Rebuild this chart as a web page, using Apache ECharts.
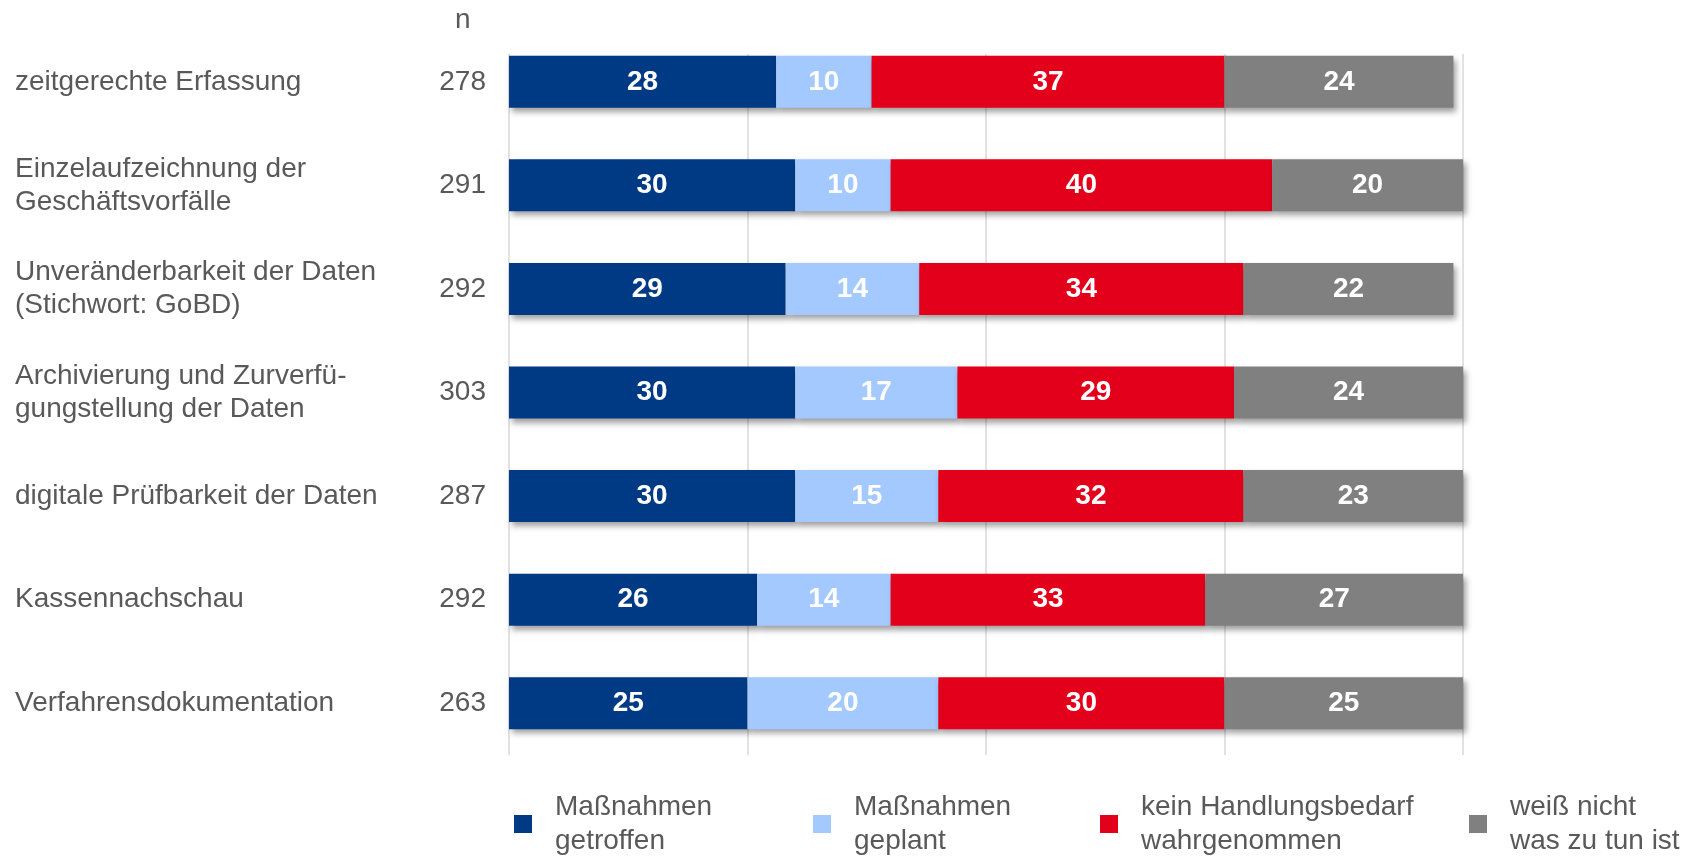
<!DOCTYPE html>
<html>
<head>
<meta charset="utf-8">
<script src="https://cdn.jsdelivr.net/npm/echarts@6/dist/echarts.min.js"></script>
<style>
html,body{margin:0;padding:0;background:#fff;}
#chart{width:1704px;height:856px;}
</style>
</head>
<body>
<div id="chart"></div>
<script>
const categories = [
  "zeitgerechte Erfassung",
  "Einzelaufzeichnung der\nGeschäftsvorfälle",
  "Unveränderbarkeit der Daten\n(Stichwort: GoBD)",
  "Archivierung und Zurverfü-\ngungstellung der Daten",
  "digitale Prüfbarkeit der Daten",
  "Kassennachschau",
  "Verfahrensdokumentation"
];
const nValues = [278, 291, 292, 303, 287, 292, 263];
const seriesNames = ["Maßnahmen getroffen", "Maßnahmen geplant", "kein Handlungsbedarf wahrgenommen", "weiß nicht was zu tun ist"];
const legendLabels = ["Maßnahmen\ngetroffen", "Maßnahmen\ngeplant", "kein Handlungsbedarf\nwahrgenommen", "weiß nicht\nwas zu tun ist"];
const getroffen = [28, 30, 29, 30, 30, 26, 25];
const geplant = [10, 10, 14, 17, 15, 14, 20];
const keinBedarf = [37, 40, 34, 29, 32, 33, 30];
const weissNicht = [24, 20, 22, 24, 23, 27, 25];
const xTicks = [0, 25, 50, 75, 100];

const colors = ["#003984", "#A3C9FF", "#E2001A", "#808080"];
const FONT = "'Liberation Sans', Arial, sans-serif";
const seriesData = [getroffen, geplant, keinBedarf, weissNicht];
const legendLefts = [514, 813, 1100, 1469];

const chart = echarts.init(document.getElementById('chart'));
const option = {
  animation: false,
  textStyle: { fontFamily: FONT },
  title: {
    text: 'n', left: 450, top: 1,
    textStyle: { fontFamily: FONT, fontSize: 28, fontWeight: 'normal', color: '#595959' }
  },
  grid: { left: 509, right: 241, top: 30, bottom: 101, containLabel: false },
  xAxis: {
    type: 'value', min: xTicks[0], max: xTicks[xTicks.length - 1], interval: 25,
    axisLabel: { show: false }, axisTick: { show: false }, axisLine: { show: false },
    splitLine: { show: true, lineStyle: { color: '#D9D9D9', width: 1.5 } }
  },
  yAxis: [
    {
      type: 'category', data: nValues.map(String), inverse: true, position: 'left',
      axisLine: { show: false }, axisTick: { show: false },
      axisLabel: { margin: 23, align: 'right', fontSize: 28, color: '#595959', fontFamily: FONT }
    },
    {
      type: 'category', data: categories, inverse: true, position: 'left',
      axisLine: { show: false }, axisTick: { show: false },
      axisLabel: { margin: 494, align: 'left', fontSize: 28, lineHeight: 33, color: '#595959', fontFamily: FONT }
    }
  ],
  legend: legendLefts.map((l, i) => ({
    data: [seriesNames[i]], left: l, top: 790, padding: 0,
    icon: 'rect', itemWidth: 18, itemHeight: 18,
    formatter: () => legendLabels[i],
    textStyle: { fontSize: 28, lineHeight: 34, color: '#595959', fontFamily: FONT, padding: [0, 0, 0, 18] },
    selectedMode: false
  })),
  graphic: [{
    type: 'rect', z: 100, silent: true,
    shape: { x: 495, y: 0, width: 990, height: 54 },
    style: { fill: '#fff' }
  }],
  series: seriesData.map((d, i) => ({
    name: seriesNames[i], type: 'bar', stack: 'total', yAxisIndex: 0,
    data: d, barWidth: 52,
    itemStyle: {
      color: colors[i],
      shadowColor: 'rgba(0,0,0,0.38)', shadowBlur: 6, shadowOffsetX: 3, shadowOffsetY: 4
    },
    label: {
      show: true, position: 'inside', color: '#fff', fontSize: 28, fontWeight: 'bold', fontFamily: FONT
    }
  }))
};
chart.setOption(option);
</script>
</body>
</html>
